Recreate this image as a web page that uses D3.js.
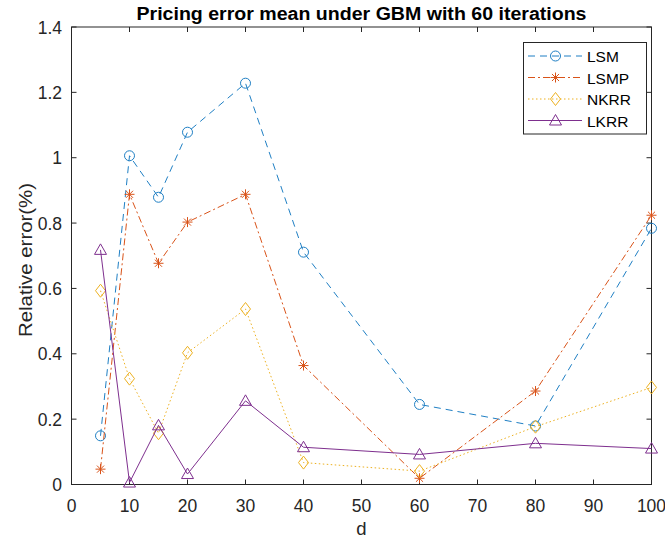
<!DOCTYPE html>
<html>
<head>
<meta charset="utf-8">
<script src="https://cdn.jsdelivr.net/npm/d3@7"></script>
<style>
  body { margin: 0; background: #fff; }
  text { font-family: "Liberation Sans", Arial, sans-serif; }
</style>
</head>
<body>
<div id="chart"></div>
<script>
// data
const dims = [5, 10, 15, 20, 30, 40, 60, 80, 100];
const lsm  = [0.149, 1.006, 0.879, 1.078, 1.228, 0.711, 0.245, 0.179, 0.784];
const lsmp = [0.047, 0.888, 0.677, 0.803, 0.888, 0.364, 0.019, 0.286, 0.824];
const nkrr = [0.593, 0.324, 0.157, 0.403, 0.537, 0.067, 0.041, 0.177, 0.297];
const lkrr = [0.718, 0.006, 0.181, 0.032, 0.256, 0.114, 0.092, 0.126, 0.110];
const xTicks = [0, 10, 20, 30, 40, 50, 60, 70, 80, 90, 100];
const yTicks = [0, 0.2, 0.4, 0.6, 0.8, 1, 1.2, 1.4];

const series = [
    { name: "LSM",  values: lsm,  color: "#1f7fc4", dash: "7,5",     marker: "circle" },
    { name: "LSMP", values: lsmp, color: "#D95319", dash: "7,3,2,3", marker: "star" },
    { name: "NKRR", values: nkrr, color: "#EDB120", dash: "1.5,2.5", marker: "diamond" },
    { name: "LKRR", values: lkrr, color: "#7E2F8E", dash: null,      marker: "triangle" }
];

const W = 665, H = 541;
const axL = 71.5, axR = 651.5, axT = 27, axB = 484.5;
const axisColor = "#262626";

const svg = d3.select("#chart").append("svg")
    .attr("width", W)
    .attr("height", H);

const x = d3.scaleLinear().domain([0, 100]).range([axL, axR]);
const y = d3.scaleLinear().domain([0, 1.4]).range([axB, axT]);

// box + ticks (inward, on all four sides)
svg.append("rect")
    .attr("x", axL).attr("y", axT)
    .attr("width", axR - axL).attr("height", axB - axT)
    .style("fill", "none").style("stroke", axisColor).style("stroke-width", 1);

const tl = 5;
xTicks.forEach(t => {
    svg.append("line").attr("x1", x(t)).attr("x2", x(t)).attr("y1", axB).attr("y2", axB - tl)
        .style("stroke", axisColor);
    svg.append("line").attr("x1", x(t)).attr("x2", x(t)).attr("y1", axT).attr("y2", axT + tl)
        .style("stroke", axisColor);
    svg.append("text").attr("x", x(t)).attr("y", axB + 27)
        .attr("text-anchor", "middle").style("font-size", "17.5px").style("fill", axisColor)
        .text(t);
});
yTicks.forEach(t => {
    svg.append("line").attr("x1", axL).attr("x2", axL + tl).attr("y1", y(t)).attr("y2", y(t))
        .style("stroke", axisColor);
    svg.append("line").attr("x1", axR).attr("x2", axR - tl).attr("y1", y(t)).attr("y2", y(t))
        .style("stroke", axisColor);
    svg.append("text").attr("x", axL - 9.5).attr("y", y(t) + 6.5)
        .attr("text-anchor", "end").style("font-size", "17.5px").style("fill", axisColor)
        .text(t);
});

// labels
svg.append("text").attr("x", (axL + axR) / 2).attr("y", 20)
    .attr("text-anchor", "middle").style("font-size", "18px").style("font-weight", "bold")
    .attr("textLength", 450).attr("lengthAdjust", "spacingAndGlyphs")
    .style("fill", "#000").text("Pricing error mean under GBM with 60 iterations");
svg.append("text").attr("x", (axL + axR) / 2).attr("y", 535)
    .attr("text-anchor", "middle").style("font-size", "18.5px").style("fill", axisColor).text("d");
svg.append("text")
    .attr("transform", `translate(32, ${260}) rotate(-90)`)
    .attr("text-anchor", "middle").style("font-size", "18.5px").style("fill", axisColor)
    .attr("textLength", 154).attr("lengthAdjust", "spacingAndGlyphs")
    .text("Relative error(%)");

function drawMarker(g, type, cx, cy, color) {
    if (type === "circle") {
        g.append("circle").attr("cx", cx).attr("cy", cy).attr("r", 5)
            .style("fill", "none").style("stroke", color);
    } else if (type === "star") {
        const r = 5;
        [[0, 1], [1, 0], [0.707, 0.707], [0.707, -0.707]].forEach(([dx, dy]) => {
            g.append("line")
                .attr("x1", cx - dx * r).attr("y1", cy - dy * r)
                .attr("x2", cx + dx * r).attr("y2", cy + dy * r)
                .style("stroke", color);
        });
    } else if (type === "diamond") {
        g.append("path")
            .attr("d", `M${cx},${cy - 6.5}L${cx + 5},${cy}L${cx},${cy + 6.5}L${cx - 5},${cy}Z`)
            .style("fill", "none").style("stroke", color);
    } else if (type === "triangle") {
        g.append("path")
            .attr("d", `M${cx},${cy - 6}L${cx + 6},${cy + 4.5}L${cx - 6},${cy + 4.5}Z`)
            .style("fill", "none").style("stroke", color);
    }
}

const line = d3.line().x(d => x(d[0])).y(d => y(d[1]));

series.forEach(s => {
    const g = svg.append("g");
    const pts = dims.map((d, i) => [d, s.values[i]]);
    g.append("path")
        .attr("d", line(pts))
        .style("fill", "none")
        .style("stroke", s.color)
        .style("stroke-width", 1)
        .style("stroke-dasharray", s.dash);
    pts.forEach(p => drawMarker(g, s.marker, x(p[0]), y(p[1]), s.color));
});

// legend
const lg = svg.append("g");
lg.append("rect").attr("x", 523.5).attr("y", 42.5).attr("width", 123).attr("height", 91.5)
    .style("fill", "#fff").style("stroke", axisColor);
series.forEach((s, i) => {
    const ly = 56 + i * 21.5;
    lg.append("line").attr("x1", 528).attr("x2", 582).attr("y1", ly).attr("y2", ly)
        .style("stroke", s.color).style("stroke-dasharray", s.dash);
    drawMarker(lg, s.marker, 555.5, ly, s.color);
    lg.append("text").attr("x", 587).attr("y", ly + 6)
        .style("font-size", "15.5px").style("fill", "#000").text(s.name);
});
</script>
</body>
</html>
